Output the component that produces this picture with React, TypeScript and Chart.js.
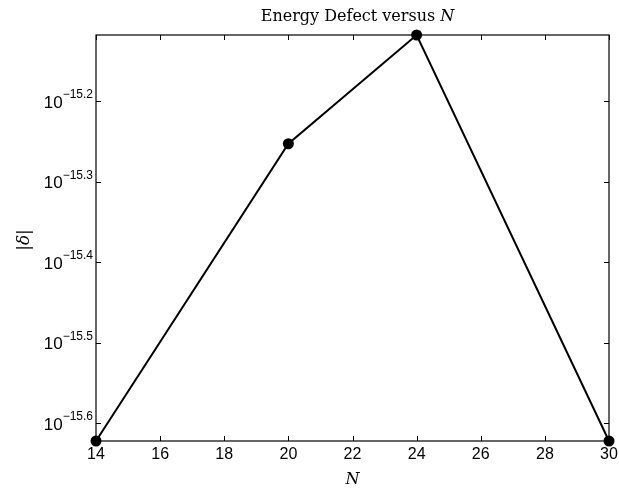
import React, { useEffect, useRef } from "react";
import { Chart, registerables } from "chart.js";

Chart.register(...registerables);

const N_VALUES = [14, 20, 24, 30];
const DELTA_VALUES = [2.388e-16, 5.585e-16, 7.621e-16, 2.388e-16];
const X_TICKS = [14, 16, 18, 20, 22, 24, 26, 28, 30];
const Y_TICK_EXPONENTS = [-15.2, -15.3, -15.4, -15.5, -15.6];
const TITLE_TEXT = "Energy Defect versus ";
const X_LABEL = "N";
const Y_LABEL = "|\u03B4|";

const SANS = "'Liberation Sans', Arial, sans-serif";
const SERIF = "'DejaVu Serif', 'Liberation Serif', serif";

const framePlugin = {
  id: "matlabFrame",
  beforeDatasetsDraw(chart: any) {
    const { ctx, chartArea } = chart;
    const { left, right, top, bottom } = chartArea;
    const xs = chart.scales.x;
    const ys = chart.scales.y;
    ctx.save();
    ctx.strokeStyle = "#000";
    ctx.lineWidth = 1.2;
    ctx.strokeRect(left, top, right - left, bottom - top);
    ctx.lineWidth = 1;
    const tl = 5;
    ctx.beginPath();
    X_TICKS.forEach((v) => {
      const px = Math.round(xs.getPixelForValue(v)) + 0.5;
      ctx.moveTo(px, bottom);
      ctx.lineTo(px, bottom - tl);
      ctx.moveTo(px, top);
      ctx.lineTo(px, top + tl);
    });
    Y_TICK_EXPONENTS.forEach((e) => {
      const py = Math.round(ys.getPixelForValue(Math.pow(10, e))) + 0.5;
      ctx.moveTo(left, py);
      ctx.lineTo(left + tl, py);
      ctx.moveTo(right, py);
      ctx.lineTo(right - tl, py);
    });
    ctx.stroke();
    ctx.restore();
  },
  afterDraw(chart: any) {
    const { ctx, chartArea } = chart;
    const { left, right, top, bottom } = chartArea;
    const ys = chart.scales.y;
    ctx.save();
    ctx.fillStyle = "#000";
    // y tick labels with superscripts
    Y_TICK_EXPONENTS.forEach((e) => {
      const py = ys.getPixelForValue(Math.pow(10, e));
      const sup = "\u2212" + Math.abs(e).toFixed(1);
      ctx.font = `12px ${SANS}`;
      const supW = ctx.measureText(sup).width;
      ctx.textAlign = "left";
      ctx.textBaseline = "alphabetic";
      const supX = left - 3 - supW;
      ctx.fillText(sup, supX, py - 3);
      ctx.font = `17px ${SANS}`;
      ctx.textAlign = "right";
      ctx.textBaseline = "middle";
      ctx.fillText("10", supX, py + 2);
    });
    // title
    const cx = (left + right) / 2;
    ctx.font = `16px ${SERIF}`;
    const tW = ctx.measureText(TITLE_TEXT).width;
    ctx.font = `italic 16px ${SERIF}`;
    const nW = ctx.measureText("N").width;
    const startX = cx + 5 - (tW + nW) / 2;
    ctx.textBaseline = "alphabetic";
    ctx.textAlign = "left";
    ctx.font = `16px ${SERIF}`;
    ctx.fillText(TITLE_TEXT, startX, 21);
    ctx.font = `italic 16px ${SERIF}`;
    ctx.fillText("N", startX + tW, 21);
    // x label
    ctx.textAlign = "center";
    ctx.font = `italic 16px ${SERIF}`;
    ctx.fillText(X_LABEL, cx, 484);
    // y label
    ctx.translate(25, (top + bottom) / 2 + 2);
    ctx.rotate(-Math.PI / 2);
    ctx.textAlign = "center";
    ctx.textBaseline = "middle";
    ctx.font = `italic 17px ${SERIF}`;
    ctx.fillText(Y_LABEL, 0, 0);
    ctx.restore();
  },
};

export default function App() {
  const canvasRef = useRef<HTMLCanvasElement | null>(null);

  useEffect(() => {
    document.body.style.margin = "0";
    const canvas = canvasRef.current;
    if (!canvas) return;
    const chart = new Chart(canvas, {
      type: "line",
      data: {
        datasets: [
          {
            data: N_VALUES.map((n, i) => ({ x: n, y: DELTA_VALUES[i] })),
            borderColor: "#000",
            backgroundColor: "#000",
            borderWidth: 2,
            pointRadius: 5.5,
            pointBackgroundColor: "#000",
            pointBorderColor: "#000",
            pointBorderWidth: 0,
            tension: 0,
            clip: false as any,
          },
        ],
      },
      options: {
        animation: false,
        responsive: false,
        devicePixelRatio: 1,
        layout: { padding: { left: 0, right: 10, top: 35, bottom: 0 } },
        plugins: {
          legend: { display: false },
          tooltip: { enabled: false },
          title: { display: false },
        },
        scales: {
          x: {
            type: "linear",
            min: 14,
            max: 30,
            grid: { display: false, drawTicks: false, tickLength: 0 },
            border: { display: false },
            afterBuildTicks: (scale: any) => {
              scale.ticks = X_TICKS.map((v) => ({ value: v }));
            },
            ticks: {
              color: "#000",
              font: { family: SANS, size: 16 },
              padding: 4,
              maxRotation: 0,
              autoSkip: false,
              callback: (v: any) => String(v),
            },
            afterFit: (scale: any) => {
              scale.height = 51;
              scale.paddingLeft = 0;
              scale.paddingRight = 0;
            },
          },
          y: {
            type: "logarithmic",
            min: Math.min(...DELTA_VALUES),
            max: Math.max(...DELTA_VALUES),
            grid: { display: false },
            border: { display: false },
            afterBuildTicks: (scale: any) => {
              scale.ticks = Y_TICK_EXPONENTS.map((e) => ({ value: Math.pow(10, e) }));
            },
            ticks: { display: false },
            afterFit: (scale: any) => {
              scale.width = 96;
              scale.paddingTop = 0;
              scale.paddingBottom = 0;
            },
          },
        },
      },
      plugins: [framePlugin],
    });
    return () => chart.destroy();
  }, []);

  return (
    <div style={{ width: 619, height: 492, background: "#fff" }}>
      <canvas ref={canvasRef} width={619} height={492} />
    </div>
  );
}
